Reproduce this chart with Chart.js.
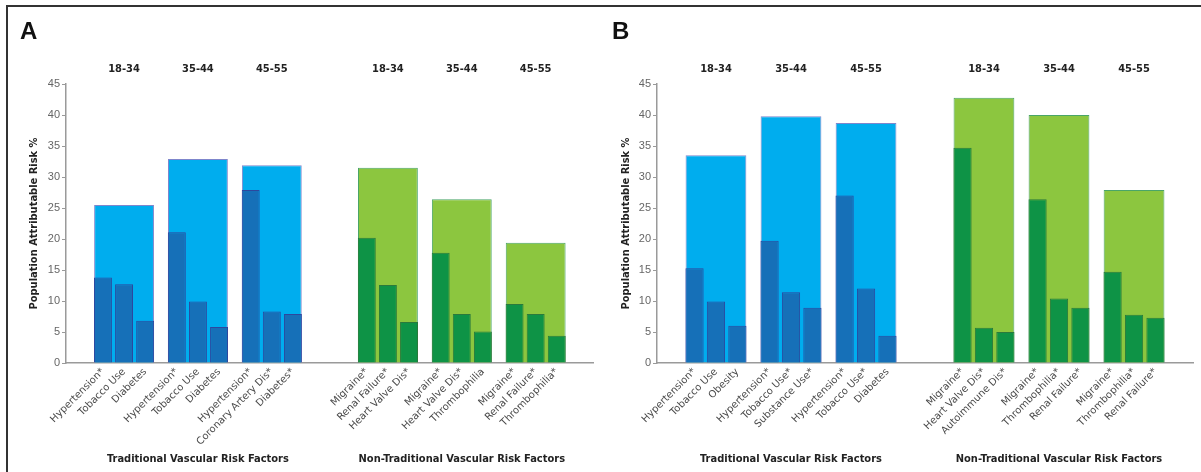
<!DOCTYPE html>
<html lang="en">
<head>
<meta charset="UTF-8">
<title>Population Attributable Risk</title>
<script src="https://cdn.jsdelivr.net/npm/chart.js@4.4.1/dist/chart.umd.min.js"></script>
<style>
  body { margin: 0; background: #fff; }
  #page { position: relative; width: 1201px; height: 472px; overflow: hidden; }
  #frame { position: absolute; left: 6px; top: 5px; width: 1300px; height: 600px;
           border-left: 2px solid #333; border-top: 2px solid #333; }
  .panel { position: absolute; top: 8px; height: 464px; }
  #panelA { left: 8px; width: 592px; }
  #panelB { left: 600px; width: 601px; }
</style>
</head>
<body>
<div id="page">
  <div id="frame"></div>
  <div class="panel" id="panelA"><canvas id="chartA"></canvas></div>
  <div class="panel" id="panelB"><canvas id="chartB"></canvas></div>
</div>
<script>
  // age groups shown above each cluster
  const ageGroups = ['18-34', '35-44', '45-55'];
  const yTicks = [0, 5, 10, 15, 20, 25, 30, 35, 40, 45];

  // panel A
  const aTradFactors = ['Hypertension*', 'Tobacco Use', 'Diabetes',
                        'Hypertension*', 'Tobacco Use', 'Diabetes',
                        'Hypertension*', 'Coronary Artery Dis*', 'Diabetes*'];
  const aTradValues = [13.8, 12.7, 6.8, 21.1, 9.9, 5.8, 27.9, 8.3, 7.9];
  const aTradTotals = [25.5, 32.9, 31.9];
  const aNonFactors = ['Migraine*', 'Renal Failure*', 'Heart Valve Dis*',
                       'Migraine*', 'Heart Valve Dis*', 'Thrombophilia',
                       'Migraine*', 'Renal Failure*', 'Thrombophilia*'];
  const aNonValues = [20.2, 12.6, 6.6, 17.8, 7.9, 5.1, 9.5, 7.9, 4.4];
  const aNonTotals = [31.5, 26.4, 19.4];

  // panel B
  const bTradFactors = ['Hypertension*', 'Tobacco Use', 'Obesity',
                        'Hypertension*', 'Tobacco Use*', 'Substance Use*',
                        'Hypertension*', 'Tobacco Use*', 'Diabetes'];
  const bTradValues = [15.3, 9.9, 6.0, 19.7, 11.4, 8.9, 27.0, 12.0, 4.4];
  const bTradTotals = [33.5, 39.8, 38.7];
  const bNonFactors = ['Migraine*', 'Heart Valve Dis*', 'Autoimmune Dis*',
                       'Migraine*', 'Thrombophilia*', 'Renal Failure*',
                       'Migraine*', 'Thrombophilia*', 'Renal Failure*'];
  const bNonValues = [34.7, 5.7, 5.0, 26.4, 10.4, 8.9, 14.7, 7.8, 7.3];
  const bNonTotals = [42.8, 40.0, 27.9];

  const sideTitles = ['Traditional Vascular Risk Factors', 'Non-Traditional Vascular Risk Factors'];

  // layout: 50 narrow slots, cluster centres at these slots, bars two slots apart
  const SLOTS = 50;
  const centres = [5, 12, 19, 30, 37, 44];

  const cond = "'DejaVu Sans Condensed', 'DejaVu Sans', sans-serif";

  function emptySlots(fill) {
    return Array.from({length: SLOTS}, function() { return fill; });
  }

  function makeChart(id, letter, tradF, tradV, tradT, nonF, nonV, nonT, yWidth, padRight) {
    const factors = tradF.concat(nonF);
    const values = tradV.concat(nonV);
    const totals = tradT.concat(nonT);

    const xLabels = emptySlots('');
    const inner = emptySlots(null);
    const outer = emptySlots(null);
    const topLabels = emptySlots('');
    const bottomLabels = emptySlots('');

    centres.forEach(function(c, g) {
      outer[c] = totals[g];
      topLabels[c] = ageGroups[g % 3];
      [-2, 0, 2].forEach(function(off, k) {
        xLabels[c + off] = factors[g * 3 + k];
        inner[c + off] = values[g * 3 + k];
      });
    });
    bottomLabels[centres[1]] = sideTitles[0];
    bottomLabels[centres[4]] = sideTitles[1];

    const isTrad = function(ctx) { return ctx.dataIndex < 25; };

    return new Chart(document.getElementById(id), {
      type: 'bar',
      data: {
        labels: xLabels,
        datasets: [{
          label: 'total',
          data: outer,
          order: 2,
          grouped: false,
          categoryPercentage: 1,
          barPercentage: 5.67,
          borderWidth: 1,
          backgroundColor: function(ctx) { return isTrad(ctx) ? '#00adee' : '#8cc63f'; },
          borderColor: function(ctx) { return isTrad(ctx) ? '#7f86cc' : '#4aa568'; }
        }, {
          label: 'factor',
          data: inner,
          order: 1,
          grouped: false,
          categoryPercentage: 1,
          barPercentage: 1.7,
          borderWidth: 1,
          backgroundColor: function(ctx) { return isTrad(ctx) ? '#1670b8' : '#0e9346'; },
          borderColor: function(ctx) { return isTrad(ctx) ? '#2d479e' : '#2a7a3c'; }
        }]
      },
      options: {
        responsive: true,
        maintainAspectRatio: false,
        animation: false,
        layout: { padding: { left: 12, right: padRight, top: 0, bottom: 0 } },
        plugins: {
          legend: { display: false },
          tooltip: { enabled: false },
          title: {
            display: true,
            text: letter,
            align: 'start',
            color: '#111',
            font: { family: "'Liberation Sans', Arial, sans-serif", size: 24, weight: 'bold' },
            padding: { top: 10, bottom: 0 }
          }
        },
        scales: {
          x: {
            type: 'category',
            offset: true,
            grid: { display: true, drawOnChartArea: false, drawTicks: false, offset: true },
            border: { display: true, color: '#9a9a9a', width: 1.5 },
            ticks: {
              autoSkip: false, maxRotation: 45, minRotation: 45, padding: 3,
              color: '#4a4a4a', font: { family: "'DejaVu Sans', sans-serif", size: 10 }
            },
            afterFit: function(s) { s.height = 84; }
          },
          x2: {
            type: 'category',
            position: 'top',
            labels: topLabels,
            offset: true,
            grid: { display: false, drawTicks: false },
            border: { display: false },
            ticks: {
              autoSkip: false, maxRotation: 0, padding: 8,
              color: '#222', font: { family: cond, size: 11, weight: 'bold' }
            },
            afterFit: function(s) { s.height = 37.2; }
          },
          x3: {
            type: 'category',
            position: 'bottom',
            weight: 1,
            labels: bottomLabels,
            offset: true,
            grid: { display: false, drawTicks: false },
            border: { display: false },
            ticks: {
              autoSkip: false, maxRotation: 0, padding: 6,
              color: '#222', font: { family: cond, size: 11, weight: 'bold' }
            },
            afterFit: function(s) { s.height = 25; }
          },
          y: {
            min: 0,
            max: 45,
            afterBuildTicks: function(s) { s.ticks = yTicks.map(function(v) { return {value: v}; }); },
            grid: { drawOnChartArea: false, drawTicks: true, tickLength: 4, color: '#9a9a9a' },
            border: { display: true, color: '#9a9a9a', width: 1.5 },
            ticks: {
              padding: 2, color: '#666',
              font: { family: "'Liberation Sans', Arial, sans-serif", size: 11 }
            },
            title: {
              display: true,
              text: 'Population Attributable Risk %',
              color: '#222',
              font: { family: cond, size: 11, weight: 'bold' },
              padding: { top: 8, bottom: 0 }
            },
            afterFit: function(s) { s.width = yWidth; }
          }
        }
      }
    });
  }

  makeChart('chartA', 'A', aTradFactors, aTradValues, aTradTotals,
            aNonFactors, aNonValues, aNonTotals, 46, 5);
  makeChart('chartB', 'B', bTradFactors, bTradValues, bTradTotals,
            bNonFactors, bNonValues, bNonTotals, 45, 8);
</script>
</body>
</html>
